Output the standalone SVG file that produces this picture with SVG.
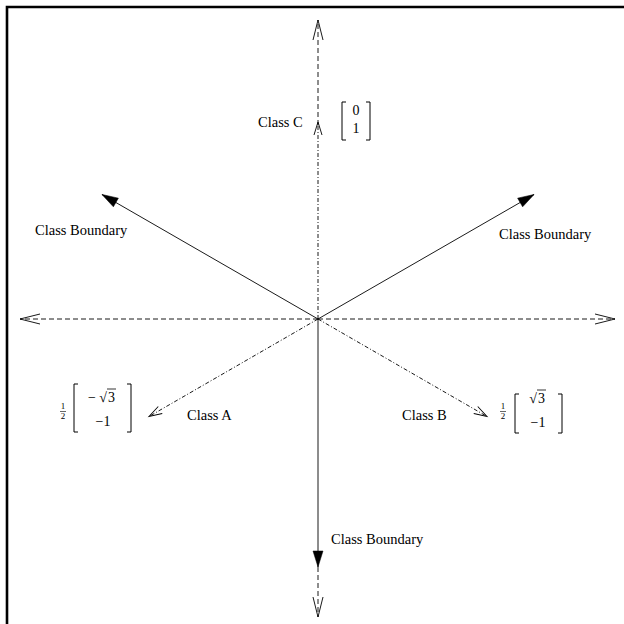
<svg xmlns="http://www.w3.org/2000/svg" width="624" height="624" viewBox="0 0 624 624">
<style>
  text { font-family: "Liberation Serif", "Times New Roman", serif; fill: #000; }
  .lbl { font-size: 14.5px; }
  .m { font-size: 14px; }
  .fr { font-size: 9px; }
  .ln { stroke: #000; stroke-width: 0.9; fill: none; }
  .dash { stroke: #000; stroke-width: 0.9; fill: none; stroke-dasharray: 5 3; }
  .dd { stroke: #000; stroke-width: 0.9; fill: none; stroke-dasharray: 4 2 1 2; }
  .br { stroke: #000; stroke-width: 1; fill: none; }
</style>
<defs>
  <marker id="openBig" markerUnits="userSpaceOnUse" markerWidth="1" markerHeight="1" overflow="visible" orient="auto">
    <path d="M-20,-5 L0,0 L-20,5" fill="none" stroke="#000" stroke-width="0.9" stroke-dasharray="none"/>
  </marker>
  <marker id="openSmall" markerUnits="userSpaceOnUse" markerWidth="1" markerHeight="1" overflow="visible" orient="auto">
    <path d="M-13,-4 L0,0 L-13,4" fill="none" stroke="#000" stroke-width="0.9" stroke-dasharray="none"/>
  </marker>
  <marker id="filled" markerUnits="userSpaceOnUse" markerWidth="1" markerHeight="1" overflow="visible" orient="auto">
    <path d="M-16,-5 L0,0 L-16,5 Z" fill="#000" stroke="#000" stroke-width="0.5" stroke-dasharray="none"/>
  </marker>
</defs>

<g id="frame">
  <path d="M7,624 V7 H624" fill="none" stroke="#000" stroke-width="2.6"/>
</g>

<g id="connectors">
  <!-- axes -->
  <line class="dash" x1="318" y1="319" x2="20" y2="319" marker-end="url(#openBig)"/>
  <line class="dash" x1="318" y1="319" x2="615" y2="319" marker-end="url(#openBig)"/>
  <line class="dash" x1="318" y1="125" x2="318" y2="20" marker-end="url(#openBig)"/>
  <line class="dash" x1="318" y1="567" x2="318" y2="617" marker-end="url(#openBig)"/>
  <!-- class vectors -->
  <line class="dd" x1="318" y1="319" x2="318" y2="122" marker-end="url(#openSmall)"/>
  <line class="dd" x1="318" y1="319" x2="149" y2="416.5" marker-end="url(#openSmall)"/>
  <line class="dd" x1="318" y1="319" x2="487" y2="416.5" marker-end="url(#openSmall)"/>
  <!-- class boundaries -->
  <line class="ln" x1="318" y1="319" x2="102" y2="194.5" marker-end="url(#filled)"/>
  <line class="ln" x1="318" y1="319" x2="534" y2="194.5" marker-end="url(#filled)"/>
  <line class="ln" x1="318" y1="319" x2="318" y2="567" marker-end="url(#filled)"/>
</g>

<g id="classC">
  <text class="lbl" x="258" y="127">Class C</text>
  <path class="br" d="M346,102 H342 V140 H346 M366,102 H370 V140 H366"/>
  <text class="m" x="356" y="115" text-anchor="middle">0</text>
  <text class="m" x="356" y="133" text-anchor="middle">1</text>
</g>

<g id="classA">
  <text class="lbl" x="187" y="420">Class A</text>
  <text class="fr" x="63" y="409" text-anchor="middle">1</text>
  <line x1="60" y1="411.5" x2="66" y2="411.5" stroke="#000" stroke-width="0.6"/>
  <text class="fr" x="63" y="419" text-anchor="middle">2</text>
  <path class="br" d="M78,384 H74 V432 H78 M127,384 H131 V432 H127"/>
  <text class="m" x="92" y="402" text-anchor="middle">−</text>
  <text class="m" x="103" y="402" text-anchor="middle">√</text>
  <text class="m" x="111.5" y="402" text-anchor="middle">3</text>
  <line x1="107" y1="389" x2="116" y2="389" stroke="#000" stroke-width="0.8"/>
  <text class="m" x="103" y="426" text-anchor="middle">−1</text>
</g>

<g id="classB">
  <text class="lbl" x="402" y="420">Class B</text>
  <text class="fr" x="503" y="409" text-anchor="middle">1</text>
  <line x1="500" y1="411.5" x2="506" y2="411.5" stroke="#000" stroke-width="0.6"/>
  <text class="fr" x="503" y="419" text-anchor="middle">2</text>
  <path class="br" d="M519,394 H515 V433 H519 M558,394 H562 V433 H558"/>
  <text class="m" x="533" y="403" text-anchor="middle">√</text>
  <text class="m" x="541.5" y="403" text-anchor="middle">3</text>
  <line x1="537" y1="390" x2="546" y2="390" stroke="#000" stroke-width="0.8"/>
  <text class="m" x="538" y="427" text-anchor="middle">−1</text>
</g>

<g id="boundaryLeft">
  <text class="lbl" x="35" y="235">Class Boundary</text>
</g>
<g id="boundaryRight">
  <text class="lbl" x="499" y="239">Class Boundary</text>
</g>
<g id="boundaryBottom">
  <text class="lbl" x="331" y="544">Class Boundary</text>
</g>
</svg>
